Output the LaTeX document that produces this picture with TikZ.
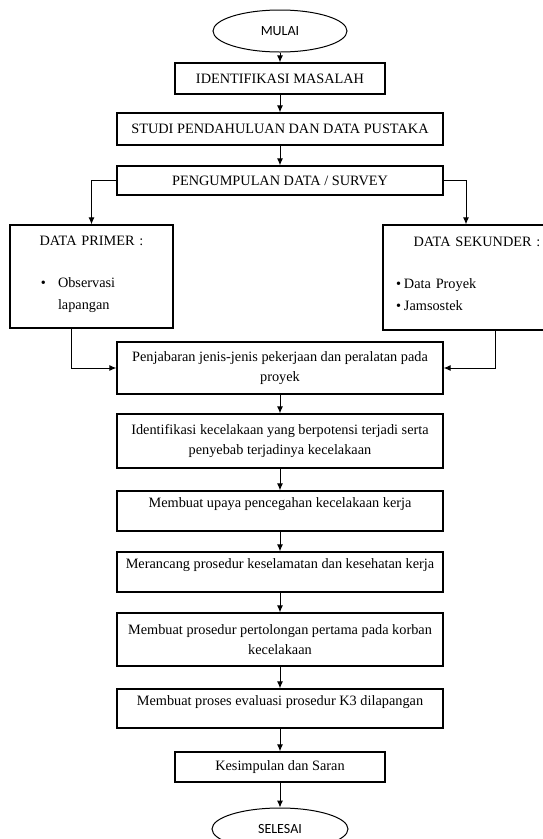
\documentclass[tikz,border=0pt]{standalone}
\usepackage{fontspec}
\setmainfont{Liberation Serif}
\newfontfamily\ovalfont{Carlito}
\usetikzlibrary{shapes.geometric,arrows.meta}
\renewcommand{\arraystretch}{1.1}

\begin{document}
\begin{tikzpicture}[x=1pt,y=-1pt,font=\fontsize{14.3}{20}\selectfont,
    box/.style={draw,line width=1.3pt,minimum width=326pt,align=center,inner sep=3pt},
    onebox/.style={box,minimum height=40pt,text depth=16pt},
    oval/.style={draw,ellipse,line width=1pt,minimum width=134pt,minimum height=42pt,
      font=\ovalfont\fontsize{14}{16}\selectfont},
    panah/.style={-{Latex[length=7pt,width=6pt]},line width=1pt}]
  \clip (0,0) rectangle (543,839);
  \node[oval] (mulai) at (280,31) {MULAI};
  \node[box,minimum width=210pt,minimum height=31pt] (idmasalah) at (280,78.5) {IDENTIFIKASI MASALAH};
  \node[box,minimum height=32pt] (studi) at (280,129) {STUDI PENDAHULUAN DAN DATA PUSTAKA};
  \node[box,minimum height=29pt] (survei) at (280,180.5) {PENGUMPULAN DATA / SURVEY};
  % dua cabang data
  \node[box,minimum width=163pt,minimum height=103pt,text width=153pt,inner xsep=5pt] (primer) at (91.5,276.5)
    {\centering DATA PRIMER :\par\vspace{22pt}\raggedright\hspace*{26pt}%
     \begin{tabular}[t]{@{}l@{\hspace{12pt}}l@{}}\textbullet & Observasi\\ & lapangan\end{tabular}\par\vspace{6pt}};
  \node[box,minimum width=188pt,minimum height=105pt,text width=178pt,inner xsep=5pt] (sekunder) at (477,277.5)
    {\centering DATA SEKUNDER :\par\vspace{22pt}\raggedright\hspace*{8pt}%
     \begin{tabular}[t]{@{}l@{\hspace{3pt}}l@{}}\textbullet & Data Proyek\\ \textbullet & Jamsostek\end{tabular}\par\vspace{6pt}};
  \node[box,minimum height=52pt] (jabar) at (280,368) {Penjabaran jenis-jenis pekerjaan dan peralatan pada\\proyek};
  \node[box,minimum height=54pt] (identifikasi) at (280,441) {Identifikasi kecelakaan yang berpotensi terjadi serta\\penyebab terjadinya kecelakaan};
  \node[onebox] (upaya) at (280,511) {Membuat upaya pencegahan kecelakaan kerja};
  \node[onebox] (rancang) at (280,572) {Merancang prosedur keselamatan dan kesehatan kerja};
  \node[box,minimum height=53pt] (tolong) at (280,639.5) {Membuat prosedur pertolongan pertama pada korban\\kecelakaan};
  \node[onebox,minimum height=39pt] (evaluasi) at (280,708.5) {Membuat proses evaluasi prosedur K3 dilapangan};
  \node[box,minimum width=210pt,minimum height=30pt] (simpulan) at (280,767) {Kesimpulan dan Saran};
  \node[oval,minimum width=136pt] (selesai) at (280,829) {SELESAI};

  \draw[panah] (mulai) -- (idmasalah);
  \draw[panah] (idmasalah) -- (studi);
  \draw[panah] (studi) -- (survei);
  \draw[panah] (survei.west) -| (primer.north);
  \draw[panah] (survei.east) -| ([xshift=-11pt]sekunder.north);
  \draw[panah] ([xshift=-20.5pt]primer.south) |- (jabar.west);
  \draw[panah] ([xshift=18pt]sekunder.south) |- (jabar.east);
  \foreach \a/\b in {jabar/identifikasi,identifikasi/upaya,upaya/rancang,rancang/tolong,
      tolong/evaluasi,evaluasi/simpulan,simpulan/selesai}
    \draw[panah] (\a) -- (\b);
\end{tikzpicture}
\end{document}
